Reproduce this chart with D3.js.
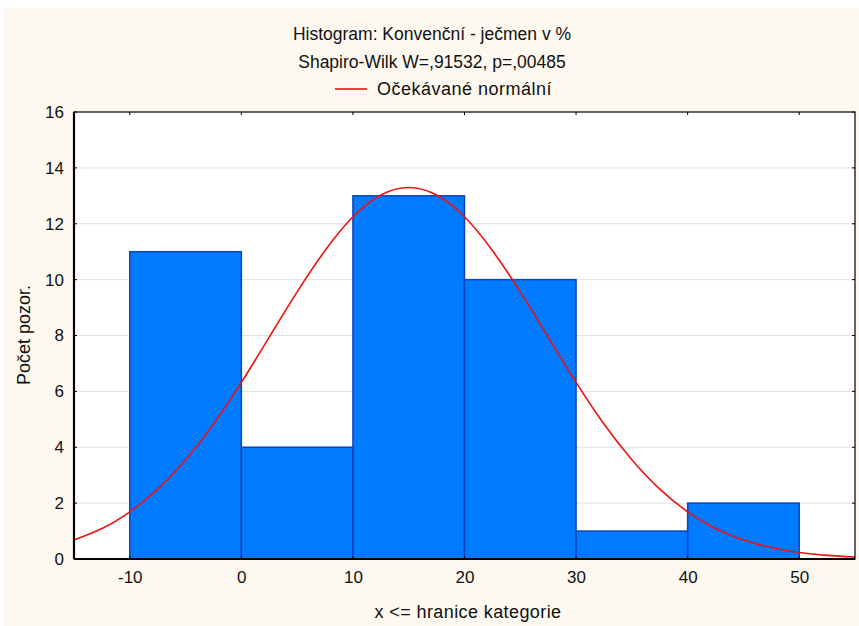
<!DOCTYPE html>
<html>
<head>
<meta charset="utf-8">
<script src="https://cdn.jsdelivr.net/npm/d3@7"></script>
<style>
  body { margin: 0; background: #fff; }
  svg text { font-family: "Liberation Sans", Arial, sans-serif; fill: #111; }
</style>
</head>
<body>
<div id="chart"></div>
<script>
// histogram bins (upper bounds, x <= bound) and counts
const binStarts = [-10, 0, 10, 20, 30, 40];
const binWidth = 10;
const counts = [11, 4, 13, 10, 1, 2];

// expected normal curve
const curveX = [-15, -12.5, -10, -7.5, -5, -2.5, 0, 2.5, 5, 7.5, 10, 12.5, 15, 17.5, 20, 22.5, 25, 27.5, 30, 32.5, 35, 37.5, 40, 42.5, 45, 47.5, 50, 52.5, 55];
const curveY = [0.68, 1.09, 1.69, 2.5, 3.55, 4.83, 6.32, 7.94, 9.56, 11.04, 12.25, 13.03, 13.3, 13.03, 12.25, 11.04, 9.56, 7.94, 6.32, 4.83, 3.55, 2.5, 1.69, 1.09, 0.68, 0.41, 0.23, 0.13, 0.07];

const xTicks = [-10, 0, 10, 20, 30, 40, 50];
const yTicks = [0, 2, 4, 6, 8, 10, 12, 14, 16];

const titleLines = ['Histogram: Konvenční - ječmen v %', 'Shapiro-Wilk W=,91532, p=,00485'];
const legendLabel = 'Očekávané normální';
const xLabel = 'x <= hranice kategorie';
const yLabel = 'Počet pozor.';

const width = 859,
  height = 626;
const margin = { top: 112, right: 4, bottom: 67, left: 74 };
const iw = width - margin.left - margin.right,
  ih = height - margin.top - margin.bottom;

const svg = d3.select('#chart').append('svg')
    .attr('width', width)
    .attr('height', height);

svg.append('rect')
    .attr('x', 3).attr('y', 8)
    .attr('width', width - 3).attr('height', height - 8)
    .attr('fill', '#fdf9f0');

const x = d3.scaleLinear().domain([-15, 55]).range([0, iw]);
const y = d3.scaleLinear().domain([0, 16]).range([ih, 0]);

const g = svg.append('g')
    .attr('transform', `translate(${margin.left},${margin.top})`);

g.append('rect')
    .attr('width', iw).attr('height', ih)
    .attr('fill', '#fff');

// horizontal grid
g.selectAll('.grid')
    .data(yTicks.slice(1, -1))
  .enter().append('line')
    .attr('class', 'grid')
    .attr('x1', 0).attr('x2', iw)
    .attr('y1', (d) => y(d)).attr('y2', (d) => y(d))
    .attr('stroke', '#e2e2e2')
    .attr('stroke-width', 1);

// bars
g.selectAll('.bar')
    .data(counts)
  .enter().append('rect')
    .attr('class', 'bar')
    .attr('x', (d, i) => x(binStarts[i]))
    .attr('y', (d) => y(d))
    .attr('width', (d, i) => x(binStarts[i] + binWidth) - x(binStarts[i]))
    .attr('height', (d) => ih - y(d))
    .attr('fill', '#007bff')
    .attr('stroke', '#0f44b8')
    .attr('stroke-width', 1.5);

// normal curve
const line = d3.line()
    .x((d, i) => x(curveX[i]))
    .y((d) => y(d))
    .curve(d3.curveNatural);

g.append('path')
    .datum(curveY)
    .attr('d', line)
    .attr('fill', 'none')
    .attr('stroke', '#f01010')
    .attr('stroke-width', 1.6);

// axes
const yAxis = d3.axisLeft(y).tickValues(yTicks).tickSize(0).tickPadding(10);
const xAxis = d3.axisBottom(x).tickValues(xTicks).tickSize(0).tickPadding(12)
    .tickFormat((d) => String(d));

const ya = g.append('g').call(yAxis);
const xa = g.append('g').attr('transform', `translate(0,${ih})`).call(xAxis);
[ya, xa].forEach((a) => {
  a.select('.domain').remove();
  a.selectAll('text').style('font-size', '17px').attr('fill', '#111');
});

// inner tick marks on all four sides
g.selectAll('.ytickL').data(yTicks).enter().append('line')
    .attr('x1', 0).attr('x2', 3)
    .attr('y1', (d) => y(d)).attr('y2', (d) => y(d))
    .attr('stroke', '#000');
g.selectAll('.ytickR').data(yTicks).enter().append('line')
    .attr('x1', iw - 3).attr('x2', iw)
    .attr('y1', (d) => y(d)).attr('y2', (d) => y(d))
    .attr('stroke', '#000');
g.selectAll('.xtickT').data(xTicks).enter().append('line')
    .attr('x1', (d) => x(d)).attr('x2', (d) => x(d))
    .attr('y1', 0).attr('y2', 3)
    .attr('stroke', '#000');
g.selectAll('.xtickB').data(xTicks).enter().append('line')
    .attr('x1', (d) => x(d)).attr('x2', (d) => x(d))
    .attr('y1', ih - 3).attr('y2', ih)
    .attr('stroke', '#000');

// frame
g.append('rect')
    .attr('width', iw).attr('height', ih)
    .attr('fill', 'none')
    .attr('stroke', '#000')
    .attr('stroke-width', 1.2);
g.append('line')
    .attr('x1', 0).attr('x2', iw).attr('y1', ih).attr('y2', ih)
    .attr('stroke', '#000').attr('stroke-width', 2.2);
g.append('line')
    .attr('x1', 0).attr('x2', 0).attr('y1', 0).attr('y2', ih)
    .attr('stroke', '#000').attr('stroke-width', 2.2);

// titles
svg.selectAll('.title')
    .data(titleLines)
  .enter().append('text')
    .attr('x', 432)
    .attr('y', (d, i) => 40 + i * 28)
    .attr('text-anchor', 'middle')
    .style('font-size', '17.5px')
    .text((d) => d);

// legend
svg.append('line')
    .attr('x1', 335).attr('x2', 367)
    .attr('y1', 89).attr('y2', 89)
    .attr('stroke', '#f01010').attr('stroke-width', 1.6);
svg.append('text')
    .attr('x', 377).attr('y', 95)
    .style('font-size', '18px')
    .style('letter-spacing', '0.5px')
    .text(legendLabel);

svg.append('text')
    .attr('x', 468).attr('y', 618)
    .attr('text-anchor', 'middle')
    .style('font-size', '18px')
    .style('letter-spacing', '0.4px')
    .text(xLabel);

svg.append('text')
    .attr('transform', 'translate(30,335) rotate(-90)')
    .attr('text-anchor', 'middle')
    .style('font-size', '18px')
    .text(yLabel);
</script>
</body>
</html>
